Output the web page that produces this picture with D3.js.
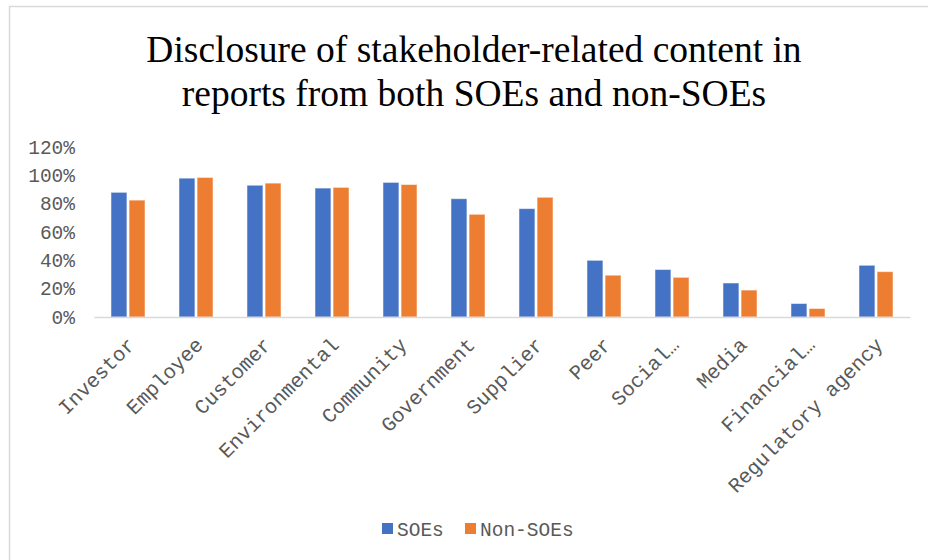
<!DOCTYPE html>
<html>
<head>
<meta charset="utf-8">
<script src="https://cdn.jsdelivr.net/npm/d3@7"></script>
<style>
  html, body { margin: 0; padding: 0; background: #fff; }
  svg { display: block; }
</style>
</head>
<body>
<svg id="chart" width="928" height="560"></svg>
<script>
const categories = ["Investor","Employee","Customer","Environmental","Community","Government","Supplier","Peer","Social\u2026","Media","Financial\u2026","Regulatory agency"];
const seriesNames = ["SOEs","Non-SOEs"];
const soeValues    = [0.88, 0.98, 0.93, 0.91, 0.95, 0.835, 0.765, 0.40, 0.335, 0.24, 0.095, 0.365];
const nonSoeValues = [0.825, 0.985, 0.945, 0.915, 0.935, 0.725, 0.845, 0.295, 0.28, 0.19, 0.06, 0.32];
const yTicks = [0, 0.2, 0.4, 0.6, 0.8, 1.0, 1.2];
const titleLines = ["Disclosure of stakeholder-related content in", "reports from both SOEs and non-SOEs"];
const colors = ["#4472C4", "#ED7D31"];

const svg = d3.select("#chart");
const labelFont = "'Liberation Mono', monospace";
const textColor = "#595959";

// outer chart border
svg.append("rect").attr("x", 9.5).attr("y", 6.5).attr("width", 940).attr("height", 580)
  .attr("fill", "#fff").attr("stroke", "#d9d9d9").attr("stroke-width", 1.5);

// title
const title = svg.append("text").attr("text-anchor", "middle")
  .attr("font-family", "'Liberation Serif', 'Times New Roman', serif")
  .attr("font-size", 37.5).attr("fill", "#000");
titleLines.forEach((t, i) => {
  title.append("tspan").attr("x", 474).attr("y", 62 + i * 44).text(t);
});

const plotLeft = 94, plotRight = 910, plotBottom = 317, plotTop = 147;

const x0 = d3.scaleBand().domain(categories).range([plotLeft, plotRight])
  .paddingInner(0.5).paddingOuter(0.25);
const x1 = d3.scaleBand().domain(seriesNames).range([0, x0.bandwidth()]).paddingInner(0.12);
const y = d3.scaleLinear().domain([0, 1.2]).range([plotBottom, plotTop]);

// y axis labels
const yAxis = d3.axisLeft(y).tickValues(yTicks).tickFormat(d3.format(".0%")).tickSize(0).tickPadding(0);
const yg = svg.append("g").attr("transform", "translate(75,0)").call(yAxis);
yg.select(".domain").remove();
yg.selectAll("text").attr("font-family", labelFont).attr("font-size", 19.5).attr("fill", textColor);

// bars
const data = categories.map((c, i) => ({ cat: c, vals: [
  { s: seriesNames[0], v: soeValues[i], c: colors[0] },
  { s: seriesNames[1], v: nonSoeValues[i], c: colors[1] }
]}));

const groups = svg.append("g").selectAll("g").data(data).join("g")
  .attr("transform", d => `translate(${x0(d.cat)},0)`);
groups.selectAll("rect").data(d => d.vals).join("rect")
  .attr("x", d => x1(d.s))
  .attr("y", d => y(d.v))
  .attr("width", x1.bandwidth())
  .attr("height", d => y(0) - y(d.v))
  .attr("fill", d => d.c)
  .attr("stroke", "#fff").attr("stroke-opacity", 0.5).attr("stroke-width", 1);

// x axis
const xAxis = d3.axisBottom(x0.copy().paddingInner(0).paddingOuter(0)).tickSize(0).tickPadding(0);
const xg = svg.append("g").attr("transform", `translate(0,${plotBottom})`).call(xAxis);
xg.select(".domain").attr("stroke", "#d9d9d9").attr("stroke-width", 1.5);
xg.selectAll("text")
  .attr("font-family", labelFont).attr("font-size", 20.5).attr("fill", textColor)
  .attr("text-anchor", "end")
  .attr("dy", "0.7em")
  .attr("transform", "translate(-2,19) rotate(-45)");

// legend
const legend = svg.append("g").attr("transform", "translate(382,523)");
const legendItems = [{ n: seriesNames[0], c: colors[0], x: 0 }, { n: seriesNames[1], c: colors[1], x: 83 }];
legendItems.forEach(it => {
  legend.append("rect").attr("x", it.x).attr("y", 0).attr("width", 11).attr("height", 11).attr("fill", it.c);
  legend.append("text").attr("x", it.x + 15).attr("y", 6).attr("dy", "0.36em")
    .attr("font-family", labelFont).attr("font-size", 19.5).attr("fill", textColor).text(it.n);
});
</script>
</body>
</html>
